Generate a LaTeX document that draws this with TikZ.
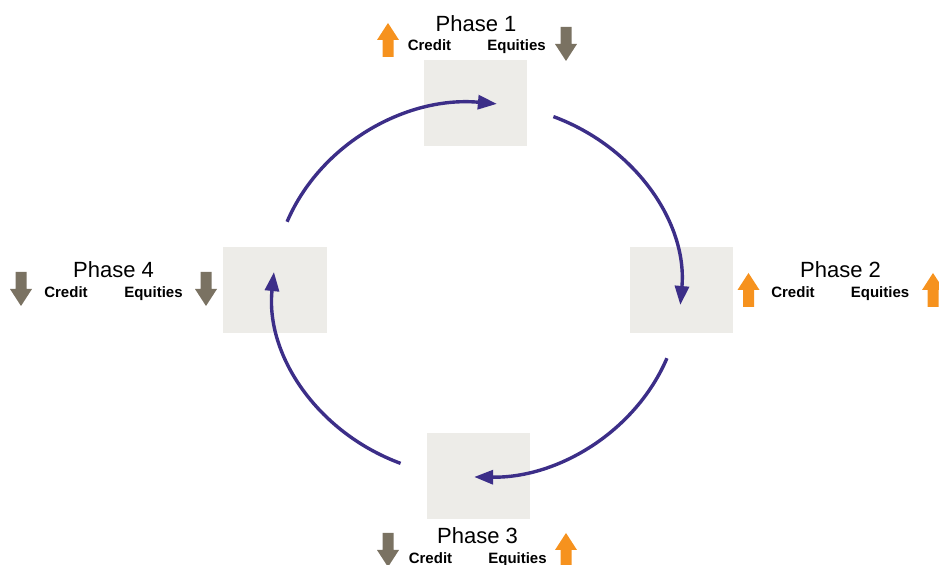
\documentclass[tikz,border=0pt]{standalone}
\usepackage{fontspec}
\setmainfont{Liberation Sans}
\usetikzlibrary{arrows.meta}

\definecolor{cycpurple}{RGB}{60,46,136}
\definecolor{uporange}{RGB}{246,146,30}
\definecolor{downgrey}{RGB}{122,114,98}
\definecolor{boxgrey}{RGB}{237,236,232}

\tikzset{
  phasebox/.style={fill=boxgrey, minimum width=51.5pt, minimum height=43pt, inner sep=0pt},
  phasename/.style={anchor=base, font=\fontsize{11}{13}\selectfont, inner sep=0pt},
  assetname/.style={anchor=base, font=\fontsize{7.5}{9}\selectfont\bfseries, inner sep=0pt},
  cyc/.style={draw=cycpurple, line width=1.7pt, -{Triangle[length=9.5pt,width=7pt]}},
  uparr/.pic={\fill[uporange] (-2.75pt,-8.5pt) -- (2.75pt,-8.5pt) -- (2.75pt,0pt) -- (5.5pt,0pt)
    -- (0pt,8.5pt) -- (-5.5pt,0pt) -- (-2.75pt,0pt) -- cycle;},
  downarr/.pic={\fill[downgrey] (-2.75pt,8.5pt) -- (2.75pt,8.5pt) -- (2.75pt,0pt) -- (5.5pt,0pt)
    -- (0pt,-8.5pt) -- (-5.5pt,0pt) -- (-2.75pt,0pt) -- cycle;}
}

\begin{document}
\begin{tikzpicture}[x=0.5pt, y=0.5pt]
    \useasboundingbox (0,0) rectangle (939,565);

    % boxes
    \node[phasebox] (box1) at (475.5,462) {};
    \node[phasebox] (box2) at (681.5,275) {};
    \node[phasebox] (box3) at (478,89) {};
    \node[phasebox, minimum width=52pt] (box4) at (274.5,275) {};

    % cycle arcs
    \coordinate (ctr) at (477,275);
    \draw[cyc] (ctr) ++(158.6:204 and 187) arc[start angle=158.6, end angle=84.4, x radius=204, y radius=187];
    \draw[cyc] (ctr) ++(68:204 and 187) arc[start angle=68, end angle=-4.6, x radius=204, y radius=187];
    \draw[cyc] (ctr) ++(-21.4:204 and 187) arc[start angle=-21.4, end angle=-90.8, x radius=204, y radius=187];
    \draw[cyc] (ctr) ++(-112:204 and 187) arc[start angle=-112, end angle=-185.5, x radius=204, y radius=187];

    % phase 1
    \node[phasename] (ph1) at (476,533) {Phase 1};
    \node[assetname] (ph1c) at (429.5,514) {Credit};
    \node[assetname] (ph1e) at (516.5,514) {Equities};
    \pic at (388,525) {uparr};
    \pic at (566,521) {downarr};

    % phase 2
    \node[phasename] (ph2) at (840.5,287) {Phase 2};
    \node[assetname] (ph2c) at (793,267) {Credit};
    \node[assetname] (ph2e) at (880,267) {Equities};
    \pic at (748.5,275) {uparr};
    \pic at (933,275) {uparr};

    % phase 3
    \node[phasename] (ph3) at (477.5,21) {Phase 3};
    \node[assetname] (ph3c) at (430.5,1) {Credit};
    \node[assetname] (ph3e) at (517.5,1) {Equities};
    \pic at (388,15) {downarr};
    \pic at (566,15) {uparr};

    % phase 4
    \node[phasename] (ph4) at (113.5,287) {Phase 4};
    \node[assetname] (ph4c) at (66,267) {Credit};
    \node[assetname] (ph4e) at (153.5,267) {Equities};
    \pic at (21,276) {downarr};
    \pic at (206,276) {downarr};
\end{tikzpicture}
\end{document}
